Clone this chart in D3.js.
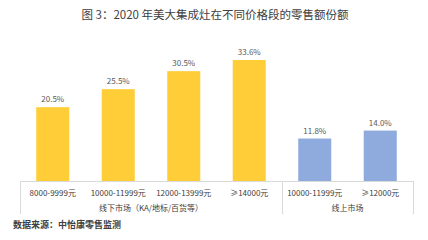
<!DOCTYPE html>
<html>
<head>
<meta charset="utf-8">
<script src="https://cdn.jsdelivr.net/npm/d3@7"></script>
<style>
  body { margin: 0; background: #fff; }
  text { font-family: "Noto Sans CJK SC", "Noto Sans", sans-serif; }
</style>
</head>
<body>
<div id="chart"></div>
<script>
(function () {
  var width = 428, height = 240;

  var categories = ["8000-9999元", "10000-11999元", "12000-13999元", "≥14000元", "10000-11999元", "≥12000元"];
  var values     = [20.5, 25.5, 30.5, 33.6, 11.8, 14.0];
  var channels   = ["offline", "offline", "offline", "offline", "online", "online"];
  var groupNames = ["线下市场（KA/地标/百货等）", "线上市场"];
  var groupSpans = [[0, 3], [4, 5]];

  var colorMap = { offline: "#FFCD38", online: "#8FAADC" };

  var svg = d3.select("#chart").append("svg")
    .attr("width", width)
    .attr("height", height);

  var x = d3.scaleBand()
    .domain(d3.range(categories.length))
    .range([20, 413])
    .paddingInner(0.496)
    .paddingOuter(0.248);

  var y = d3.scaleLinear()
    .domain([0, 33.6])
    .range([181, 60]);

  // title
  svg.append("text")
    .attr("x", 215)
    .attr("y", 19)
    .attr("text-anchor", "middle")
    .attr("font-size", "11.5px")
    .attr("fill", "#404040")
    .text("图 3：2020 年美大集成灶在不同价格段的零售额份额");

  // bars
  svg.append("g").selectAll("rect")
    .data(values)
    .enter().append("rect")
    .attr("x", function (d, i) { return x(i); })
    .attr("y", function (d) { return y(d); })
    .attr("width", x.bandwidth())
    .attr("height", function (d) { return y(0) - y(d); })
    .attr("fill", function (d, i) { return colorMap[channels[i]]; });

  // value labels
  svg.append("g").selectAll("text")
    .data(values)
    .enter().append("text")
    .attr("x", function (d, i) { return x(i) + x.bandwidth() / 2; })
    .attr("y", function (d) { return y(d) - 5; })
    .attr("text-anchor", "middle")
    .attr("font-size", "8px")
    .attr("fill", "#595959")
    .text(function (d) { return d.toFixed(1) + "%"; });

  // axis lines
  var step = x.step();
  var axis = svg.append("g")
    .attr("stroke", "#d9d9d9")
    .attr("stroke-width", 1);
  axis.append("line")
    .attr("x1", 20).attr("x2", 413)
    .attr("y1", y(0) + 0.5).attr("y2", y(0) + 0.5);
  [20, 20 + step * 4, 413].forEach(function (xx) {
    axis.append("line")
      .attr("x1", Math.round(xx) + 0.5).attr("x2", Math.round(xx) + 0.5)
      .attr("y1", y(0)).attr("y2", 214);
  });

  // category labels
  svg.append("g").selectAll("text")
    .data(categories)
    .enter().append("text")
    .attr("x", function (d, i) { return x(i) + x.bandwidth() / 2; })
    .attr("y", 196)
    .attr("text-anchor", "middle")
    .attr("font-size", "8px")
    .attr("fill", "#404040")
    .text(function (d) { return d; });

  // group labels
  svg.append("g").selectAll("text")
    .data(groupNames)
    .enter().append("text")
    .attr("x", function (d, i) {
      var s = groupSpans[i];
      return (x(s[0]) + x(s[1]) + x.bandwidth()) / 2;
    })
    .attr("y", 211)
    .attr("text-anchor", "middle")
    .attr("font-size", "8px")
    .attr("fill", "#404040")
    .text(function (d) { return d; });

  // source
  svg.append("text")
    .attr("x", 13)
    .attr("y", 228)
    .attr("font-size", "9px")
    .attr("font-weight", "bold")
    .attr("fill", "#404040")
    .text("数据来源：中怡康零售监测");
})();
</script>
</body>
</html>
